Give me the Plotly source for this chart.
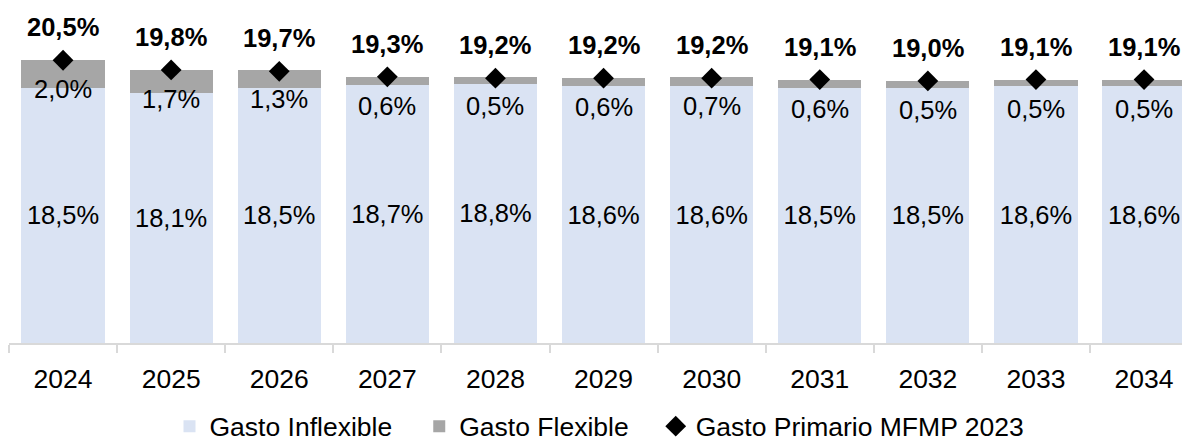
import plotly.graph_objects as go

years = ["2024", "2025", "2026", "2027", "2028", "2029", "2030", "2031", "2032", "2033", "2034"]
inflexible = [18.5, 18.1, 18.5, 18.7, 18.8, 18.6, 18.6, 18.5, 18.5, 18.6, 18.6]
flexible = [2.0, 1.7, 1.3, 0.6, 0.5, 0.6, 0.7, 0.6, 0.5, 0.5, 0.5]
total_mfmp = [20.5, 19.8, 19.7, 19.3, 19.2, 19.2, 19.2, 19.1, 19.0, 19.1, 19.1]


def fmt(v):
    return f"{v:.1f}".replace(".", ",") + "%"


FONT = "Liberation Sans, Arial, sans-serif"

fig = go.Figure()
fig.add_trace(go.Bar(
    x=years, y=inflexible, name="Gasto Inflexible\u00a0\u00a0\u00a0",
    marker=dict(color="#DAE3F3", line=dict(width=0)),
    text=[fmt(v) for v in inflexible], textposition="inside",
    insidetextanchor="middle", textangle=0,
    textfont=dict(size=25.5, color="#000000", family=FONT),
))
fig.add_trace(go.Bar(
    x=years, y=flexible, name="Gasto Flexible\u00a0\u00a0\u00a0",
    marker=dict(color="#A6A6A6", line=dict(width=0)),
))
fig.add_trace(go.Scatter(
    x=years, y=total_mfmp, name="Gasto Primario MFMP 2023", mode="markers",
    marker=dict(symbol="diamond", size=16, color="#000000"),
))

annotations = []
for i, (inf, fl, tot) in enumerate(zip(inflexible, flexible, total_mfmp)):
    annotations.append(dict(
        x=i, y=inf + fl, xref="x", yref="y", text=fmt(fl), showarrow=False,
        yanchor="middle", yshift=-29,
        font=dict(size=25.5, color="#000000", family=FONT),
    ))
    annotations.append(dict(
        x=i, y=tot, xref="x", yref="y", text="<b>" + fmt(tot) + "</b>",
        showarrow=False, yanchor="middle", yshift=33,
        font=dict(size=25.5, color="#000000", family=FONT),
    ))

fig.update_layout(
    width=1182, height=435,
    barmode="stack", bargap=0.23,
    plot_bgcolor="white", paper_bgcolor="white",
    margin=dict(l=1, r=0, t=4, b=100, autoexpand=False),
    font=dict(family=FONT, size=26, color="#000000"),
    xaxis=dict(
        type="category", range=[-0.5, 10.425],
        showline=True, linecolor="#D9D9D9", linewidth=2,
        ticks="outside", tickson="boundaries", ticklen=8, tickcolor="#D9D9D9", tickwidth=2,
        tickfont=dict(size=26.5, family=FONT, color="#000000"),
        ticklabelstandoff=11,
        showgrid=False, zeroline=False,
    ),
    yaxis=dict(range=[0, 24], visible=False, showgrid=False, zeroline=False),
    legend=dict(
        orientation="h", x=0.5, xanchor="center", y=-0.252, yanchor="middle",
        font=dict(size=26.5, family=FONT, color="#000000"),
        itemwidth=30, traceorder="normal",
    ),
    annotations=annotations,
    showlegend=True,
)

fig.write_html("out.html")
